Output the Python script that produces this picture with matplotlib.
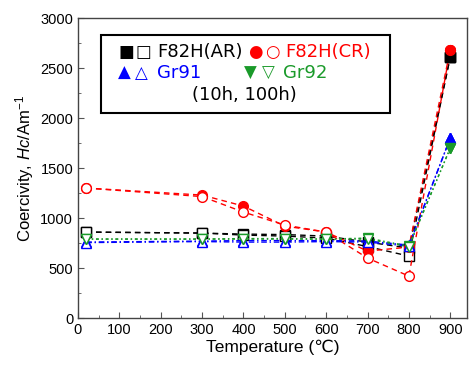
import numpy as np
import matplotlib
matplotlib.use('Agg')
import matplotlib.pyplot as plt
from matplotlib.patches import Rectangle

plt.rcParams['font.family'] = ['Liberation Sans', 'DejaVu Sans']
plt.rcParams['mathtext.fontset'] = 'custom'
plt.rcParams['mathtext.rm'] = 'Liberation Sans'
plt.rcParams['mathtext.it'] = 'Liberation Sans:italic'

# temperatures (deg C)
temps = [20, 300, 400, 500, 600, 700, 800, 900]

# coercivity (A/m), 10h filled / 100h open
ar_10h = [860, 850, 840, 835, 820, 760, 700, 2610]
ar_100h = [860, 850, 830, 820, 800, 715, 620, 2610]
cr_10h = [1300, 1230, 1120, 920, 860, 670, 710, 2680]
cr_100h = [1300, 1215, 1060, 930, 860, 600, 420, 2680]
gr91_10h = [760, 770, 775, 775, 775, 770, 730, 1800]
gr91_100h = [755, 765, 760, 760, 765, 760, 720, 1800]
gr92_10h = [790, 790, 795, 795, 790, 800, 720, 1700]
gr92_100h = [790, 790, 790, 790, 790, 790, 715, 1700]

green = '#1a9a2a'
series = [
    (ar_10h, ar_100h, 'black', 's', (0, (4, 3))),
    (cr_10h, cr_100h, 'red', 'o', (0, (4, 3))),
    (gr91_10h, gr91_100h, 'blue', '^', (0, (4, 2, 1, 2))),
    (gr92_10h, gr92_100h, green, 'v', (0, (2, 2, 1, 2))),
]

fig = plt.figure(figsize=(4.69, 3.69), dpi=100)
ax = fig.add_axes([0.1663, 0.138, 0.829, 0.813])

for s10, s100, c, m, ls in series:
    ax.plot(temps, s10, color=c, marker=m, ls=ls, lw=1.0, ms=7,
            mfc=c, mec=c, zorder=3)
    ax.plot(temps, s100, color=c, marker=m, ls=ls, lw=1.0, ms=7,
            mfc='white', mec=c, mew=1.0, zorder=3)

# redraw 900 filled points on top
for s10, s100, c, m, ls in series:
    ax.plot(temps[-1:], s10[-1:], color=c, marker=m, ms=7, ls='none', zorder=4)

ax.set_xlim(0, 940)
ax.set_ylim(0, 3000)
ax.set_xticks(np.arange(0, 901, 100))
ax.set_xticks(np.arange(50, 901, 100), minor=True)
ax.set_yticks(np.arange(0, 3001, 500))
ax.set_yticks(np.arange(250, 3000, 500), minor=True)
ax.tick_params(direction='in', labelsize=10.5, length=4, color='#555555')
ax.tick_params(which='minor', direction='in', length=2.5, color='#555555')
for sp in ax.spines.values():
    sp.set_color('#444444')
    sp.set_linewidth(1.0)

ax.set_xlabel('Temperature (\u2103)', fontsize=12.5, labelpad=2)
ax.set_ylabel('Coercivity, $Hc$/Am$^{-1}$', fontsize=12, labelpad=3)

# legend box drawn by hand
box = Rectangle((0.059, 0.683), 0.743, 0.26, transform=ax.transAxes,
                fill=False, ec='black', lw=1.5, zorder=5)
ax.add_patch(box)
sfont = dict(fontsize=12, family=['DejaVu Sans'], transform=ax.transAxes,
             va='center', zorder=6)
tfont = dict(fontsize=13, family=['DejaVu Sans'], transform=ax.transAxes,
             va='center', zorder=6)
ax.text(0.103, 0.887, '\u25a0', color='black', **sfont)
ax.text(0.148, 0.887, '\u25a1', color='black', **sfont)
ax.text(0.203, 0.887, 'F82H(AR)', color='black', **tfont)
ax.text(0.437, 0.887, '\u25cf', color='red', **sfont)
ax.text(0.481, 0.887, '\u25cb', color='red', **sfont)
ax.text(0.532, 0.887, 'F82H(CR)', color='red', **tfont)
ax.text(0.103, 0.817, '\u25b2', color='blue', **sfont)
ax.text(0.146, 0.817, '\u25b3', color='blue', **sfont)
ax.text(0.203, 0.817, 'Gr91', color='blue', **tfont)
ax.text(0.427, 0.817, '\u25bc', color=green, **sfont)
ax.text(0.473, 0.817, '\u25bd', color=green, **sfont)
ax.text(0.527, 0.817, 'Gr92', color=green, **tfont)
ax.text(0.429, 0.743, '(10h, 100h)', color='black', ha='center', **tfont)

fig.savefig('out.png', dpi=100)
